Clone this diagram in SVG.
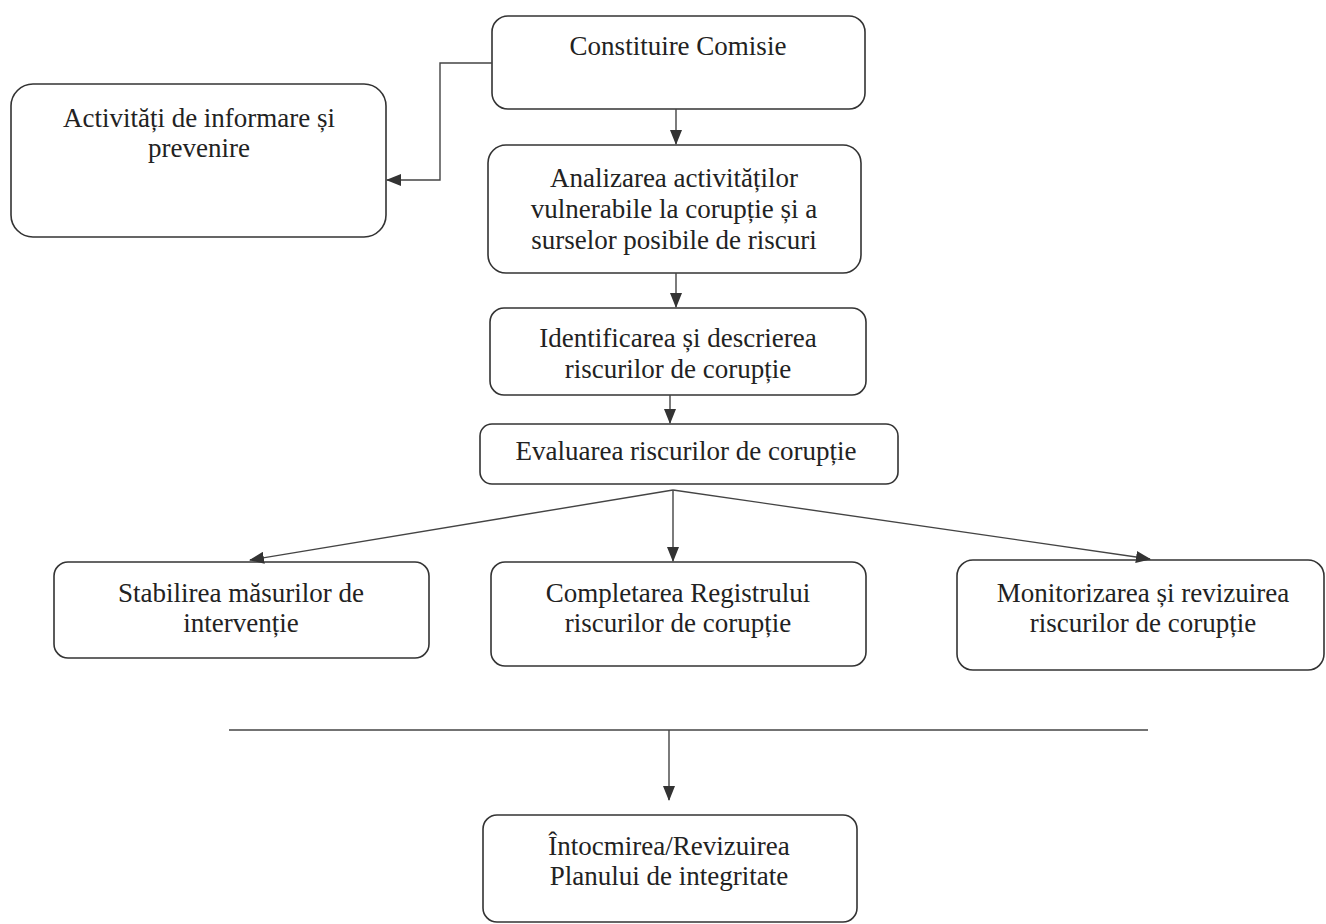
<svg xmlns="http://www.w3.org/2000/svg" width="1326" height="924" viewBox="0 0 1326 924">
<style>
.box{fill:#fff;stroke:#333;stroke-width:1.6}
.t{font-family:"Liberation Serif","Times New Roman",serif;font-size:27px;fill:#222;text-anchor:middle}
.c{fill:none;stroke:#444;stroke-width:1.4}
</style>
<defs>
<marker id="a" markerWidth="15" markerHeight="12" refX="14" refY="6" orient="auto" markerUnits="userSpaceOnUse">
<path d="M0,0 L15,6 L0,12 Z" fill="#333"/>
</marker>
</defs>
<rect width="1326" height="924" fill="#fff"/>
<g id="n1"><rect class="box" x="492" y="16" width="373" height="93" rx="16"/><text class="t" x="678" y="55">Constituire Comisie</text></g>
<g id="n2"><rect class="box" x="11" y="84" width="375" height="153" rx="22"/><text class="t" x="199" y="127">Activități de informare și</text><text class="t" x="199" y="157">prevenire</text></g>
<g id="n3"><rect class="box" x="488" y="145" width="373" height="128" rx="18"/><text class="t" x="674" y="187">Analizarea activităților</text><text class="t" x="674" y="218">vulnerabile la corupție și a</text><text class="t" x="674" y="249">surselor posibile de riscuri</text></g>
<g id="n4"><rect class="box" x="490" y="308" width="376" height="87" rx="14"/><text class="t" x="678" y="347">Identificarea și descrierea</text><text class="t" x="678" y="378">riscurilor de corupție</text></g>
<g id="n5"><rect class="box" x="480" y="424" width="418" height="60" rx="12"/><text class="t" x="686" y="460">Evaluarea riscurilor de corupție</text></g>
<g id="n6"><rect class="box" x="54" y="562" width="375" height="96" rx="14"/><text class="t" x="241" y="602">Stabilirea măsurilor de</text><text class="t" x="241" y="632">intervenție</text></g>
<g id="n7"><rect class="box" x="491" y="562" width="375" height="104" rx="14"/><text class="t" x="678" y="602">Completarea Registrului</text><text class="t" x="678" y="632">riscurilor de corupție</text></g>
<g id="n8"><rect class="box" x="957" y="560" width="367" height="110" rx="16"/><text class="t" x="1143" y="602">Monitorizarea și revizuirea</text><text class="t" x="1143" y="632">riscurilor de corupție</text></g>
<g id="n9"><rect class="box" x="483" y="815" width="374" height="107" rx="14"/><text class="t" x="669" y="855">Întocmirea/Revizuirea</text><text class="t" x="669" y="885">Planului de integritate</text></g>
<g id="connectors">
<path class="c" d="M492,63 H440 V180 H387" marker-end="url(#a)"/>
<path class="c" d="M676,109 V144" marker-end="url(#a)"/>
<path class="c" d="M676,273 V307" marker-end="url(#a)"/>
<path class="c" d="M670,395 V423" marker-end="url(#a)"/>
<path class="c" d="M673,490 L250,560" marker-end="url(#a)"/>
<path class="c" d="M673,490 V561" marker-end="url(#a)"/>
<path class="c" d="M673,490 L1150,559" marker-end="url(#a)"/>
<path class="c" d="M229,730 H1148"/>
<path class="c" d="M669,730 V800" marker-end="url(#a)"/>
</g>
</svg>
